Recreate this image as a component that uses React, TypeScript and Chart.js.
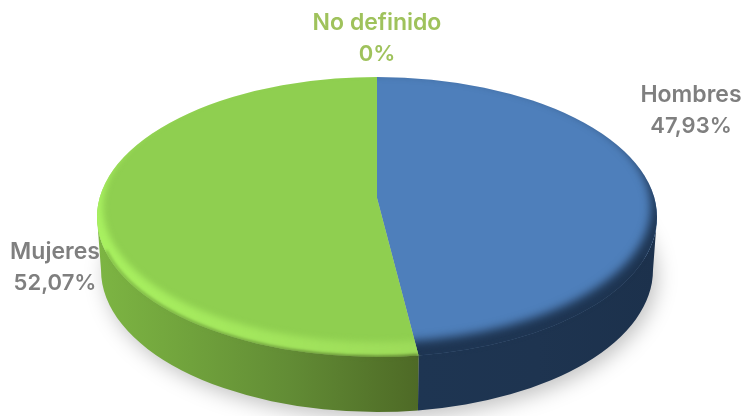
import React, { useEffect, useRef } from "react";
import { Chart, registerables } from "chart.js";

Chart.register(...registerables);

const categories = ["Hombres", "Mujeres", "No definido"];
const shares = [47.93, 52.07, 0];
const shareLabels = ["47,93%", "52,07%", "0%"];

const faceColors = ["#4e7fbb", "#8fcf50", "#9bbb59"];
const labelColors = ["#7f7f7f", "#7f7f7f", "#9fc25c"];
const rimColors = [
  ["#1e3552", "#1e3552"],
  ["#a8f060", "#9ddb5a"],
  ["#9bbb59", "#9bbb59"],
];
const rimBlur = [5, 3, 3];
const wallStops: [number, string][][] = [
  [[0, "#1e3552"], [0.5, "#1e3450"], [1, "#1c314c"]],
  [[0, "#7db543"], [0.25, "#72a53d"], [0.6, "#628c35"], [1, "#4e6a26"]],
  [[0, "#6c8a3a"], [1, "#6c8a3a"]],
];
const labelPlaces = [
  { x: 691, y: 95 },
  { x: 55, y: 252 },
  { x: 377, y: 23 },
];

const TOP = { cx: 377, cy: 217, rx: 280, ry: 140 };
const BOTTOM = { cx: 377, cy: 270, rx: 276, ry: 142 };
const TILT = 0.135;

// Perspective: the circle stays an ellipse, but its centre moves up the picture.
const project = (a: number) => {
  const s = Math.sin(a);
  const c = Math.cos(a);
  const d = 1 - TILT * s;
  return Math.atan2((s - TILT) / d, (c * Math.sqrt(1 - TILT * TILT)) / d);
};

const span = (start: number, end: number) => {
  const t0 = project(start);
  let t1 = project(end);
  while (t1 <= t0) t1 += Math.PI * 2;
  return [t0, t1];
};

const wedge = (ctx: CanvasRenderingContext2D, t0: number, t1: number) => {
  ctx.beginPath();
  ctx.moveTo(TOP.cx, TOP.cy - TOP.ry * TILT);
  ctx.ellipse(TOP.cx, TOP.cy, TOP.rx, TOP.ry, 0, t0, t1);
  ctx.closePath();
};

const frontParts = (t0: number, t1: number) =>
  [
    [Math.max(t0, 0), Math.min(t1, Math.PI)],
    [Math.max(t0, Math.PI * 2), Math.min(t1, Math.PI * 3)],
  ].filter(([a, b]) => b > a);

const wallFill = (ctx: CanvasRenderingContext2D, i: number) => {
  const g = ctx.createLinearGradient(i === 0 ? 417 : 97, 0, i === 0 ? 656 : 417, 0);
  wallStops[i].forEach(([p, c]) => g.addColorStop(p, c));
  return g;
};

const piePlugin = {
  id: "tiltedPie",
  beforeDatasetDraw(chart: any) {
    const ctx: CanvasRenderingContext2D = chart.ctx;
    const arcs = chart.getDatasetMeta(0).data;

    ctx.save();
    ctx.filter = "blur(10px)";
    ctx.fillStyle = "rgba(0,0,0,0.24)";
    ctx.beginPath();
    ctx.ellipse(BOTTOM.cx + 4, BOTTOM.cy + 6, BOTTOM.rx, BOTTOM.ry, 0, 0, Math.PI * 2);
    ctx.fill();
    ctx.restore();

    arcs.forEach((arc: any, i: number) => {
      if (arc.endAngle - arc.startAngle <= 0) return;
      const [t0, t1] = span(arc.startAngle, arc.endAngle);
      frontParts(t0, t1).forEach(([a, b]) => {
        ctx.beginPath();
        ctx.ellipse(TOP.cx, TOP.cy, TOP.rx, TOP.ry, 0, a, b);
        ctx.ellipse(BOTTOM.cx, BOTTOM.cy, BOTTOM.rx, BOTTOM.ry, 0, b, a, true);
        ctx.closePath();
        ctx.fillStyle = wallFill(ctx, i);
        ctx.fill();
      });
    });

    arcs.forEach((arc: any, i: number) => {
      if (arc.endAngle - arc.startAngle <= 0) return;
      const [t0, t1] = span(arc.startAngle, arc.endAngle);
      wedge(ctx, t0, t1);
      ctx.fillStyle = faceColors[i];
      ctx.fill();

      ctx.save();
      wedge(ctx, t0, t1);
      ctx.clip();
      ctx.filter = `blur(${rimBlur[i]}px)`;
      const g = ctx.createLinearGradient(97, 0, 417, 0);
      g.addColorStop(0, rimColors[i][0]);
      g.addColorStop(1, rimColors[i][1]);
      ctx.fillStyle = g;
      ctx.beginPath();
      ctx.ellipse(TOP.cx, TOP.cy, TOP.rx + 8, TOP.ry + 8, 0, 0, Math.PI * 2);
      ctx.ellipse(TOP.cx, TOP.cy - 10, TOP.rx - 6, TOP.ry - 5, 0, 0, Math.PI * 2);
      ctx.fill("evenodd");
      ctx.restore();

      // soft seam between the rim of the face and the wall below it
      ctx.save();
      ctx.filter = "blur(1.5px)";
      ctx.strokeStyle = wallFill(ctx, i);
      ctx.lineWidth = 2.5;
      frontParts(t0, t1).forEach(([a, b]) => {
        ctx.beginPath();
        ctx.ellipse(TOP.cx, TOP.cy, TOP.rx - 1, TOP.ry, 0, Math.max(a, 0.3), Math.min(b, 2.9));
        ctx.stroke();
      });
      ctx.restore();
    });
    return false;
  },
  afterDraw(chart: any) {
    const ctx: CanvasRenderingContext2D = chart.ctx;
    ctx.save();
    ctx.textAlign = "center";
    ctx.textBaseline = "middle";
    categories.forEach((name, i) => {
      const { x, y } = labelPlaces[i];
      ctx.fillStyle = labelColors[i];
      ctx.font = '600 23px "Inter", sans-serif';
      ctx.fillText(name, x, y);
      ctx.font = '600 22px "Inter", sans-serif';
      ctx.fillText(shareLabels[i], x, y + 31);
    });
    ctx.restore();
  },
};

export default function App() {
  const ref = useRef<HTMLCanvasElement>(null);
  useEffect(() => {
    const chart = new Chart(ref.current!, {
      type: "pie",
      data: {
        labels: categories,
        datasets: [
          { data: shares, backgroundColor: faceColors, borderWidth: 0, clip: false } as any,
        ],
      },
      options: {
        animation: false,
        responsive: false,
        events: [],
        plugins: { legend: { display: false }, tooltip: { enabled: false } },
      },
      plugins: [piePlugin as any],
    });
    return () => chart.destroy();
  }, []);
  return (
    <div style={{ position: "fixed", left: 0, top: 0, width: 744, height: 416, background: "#fff" }}>
      <canvas ref={ref} width={744} height={416} style={{ display: "block" }} />
    </div>
  );
}
